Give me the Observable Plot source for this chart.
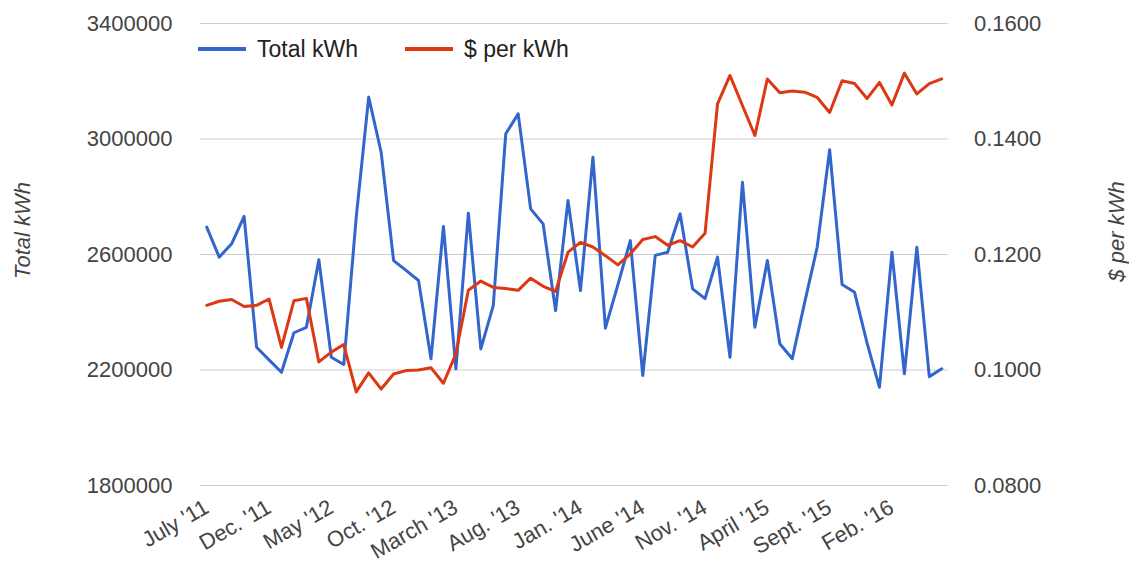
<!DOCTYPE html>
<html><head><meta charset="utf-8">
<script src="https://cdn.jsdelivr.net/npm/d3@7"></script>
<script src="https://cdn.jsdelivr.net/npm/@observablehq/plot@0.6"></script>
<style>
body{margin:0;background:#fff;font-family:"Liberation Sans",Arial,sans-serif;}
#wrap{position:relative;width:1129px;height:572px;}
.leg{position:absolute;top:35px;font-size:23px;color:#222;display:flex;align-items:center;line-height:28px;}
.sw{width:48px;height:4px;margin-right:11px;}
</style></head><body><div id="wrap"></div>
<script>
const tickLabels = ["July '11","Dec. '11","May '12","Oct. '12","March '13","Aug. '13","Jan. '14","June '14","Nov. '14","April '15","Sept. '15","Feb. '16"];
const tickIndex = [0,5,10,15,20,25,30,35,40,45,50,55];
const leftTicks = [1800000,2200000,2600000,3000000,3400000];
const totalKWh = [
 2695000,2591000,2637000,2732000,2279000,2235000,2192000,2329000,2348000,2582000,
 2244000,2219000,2729000,3145000,2954000,2579000,2545000,2510000,2239000,2697000,
 2204000,2743000,2273000,2423000,3018000,3087000,2758000,2706000,2406000,2787000,
 2475000,2937000,2345000,2495000,2648000,2181000,2597000,2608000,2741000,2481000,
 2447000,2591000,2244000,2850000,2348000,2579000,2291000,2239000,2435000,2625000,
 2963000,2496000,2469000,2294000,2140000,2608000,2187000,2625000,2177000,2204000];
const pricePerKWh = [
 0.1112,0.1119,0.1122,0.1110,0.1112,0.1123,0.1039,0.1120,0.1124,0.1014,
 0.1031,0.1044,0.0962,0.0995,0.0967,0.0993,0.0999,0.1000,0.1004,0.0977,
 0.1028,0.1138,0.1154,0.1143,0.1141,0.1138,0.1159,0.1145,0.1136,0.1204,
 0.1221,0.1213,0.1198,0.1182,0.1201,0.1226,0.1231,0.1216,0.1224,0.1213,
 0.1237,0.1461,0.1510,0.1458,0.1406,0.1504,0.1480,0.1483,0.1481,0.1472,
 0.1446,0.1501,0.1496,0.1470,0.1498,0.1459,0.1514,0.1478,0.1496,0.1504];

const rows = totalKWh.map((v, i) => ({i, kwh: v, price: pricePerKWh[i]}));
// map right axis (0.08–0.16) onto left axis domain (1.8M–3.4M)
const toLeft = p => 1800000 + (p - 0.08) / 0.08 * 1600000;
const fromLeft = v => 0.08 + (v - 1800000) / 1600000 * 0.08;
const font = '"Liberation Sans", Arial, sans-serif';

const chart = Plot.plot({
  width: 1129, height: 572,
  marginLeft: 200, marginRight: 181.5, marginTop: 23, marginBottom: 87,
  style: {fontFamily: font, fontSize: "22px", color: "#444", background: "#fff", overflow: "visible"},
  x: {domain: [-0.5, 59.5], axis: null},
  y: {domain: [1800000, 3400000], axis: null},
  marks: [
    Plot.gridY(leftTicks, {stroke: "#ccc", strokeOpacity: 1, strokeWidth: 1}),
    Plot.axisY(leftTicks, {anchor: "left", tickSize: 0, tickPadding: 28, tickFormat: d => String(d), label: null, fill: "#444"}),
    Plot.axisY(leftTicks, {anchor: "right", tickSize: 0, tickPadding: 26, tickFormat: d => fromLeft(d).toFixed(4), label: null, fill: "#444"}),
    Plot.axisX(tickIndex, {anchor: "bottom", tickSize: 0, tickPadding: 20, tickRotate: -30, tickFormat: d => tickLabels[d / 5], label: null, fill: "#444"}),
    Plot.lineY(rows, {x: "i", y: "kwh", stroke: "#3366cc", strokeWidth: 3}),
    Plot.lineY(rows, {x: "i", y: d => toLeft(d.price), stroke: "#dc3912", strokeWidth: 3}),
    Plot.text(["Total kWh"], {frameAnchor: "left", textAnchor: "middle", dx: -178, dy: -24, rotate: -90, fontStyle: "italic", fill: "#444", text: d => d}),
    Plot.text(["$ per kWh"], {frameAnchor: "right", textAnchor: "middle", dx: 169, dy: -23, rotate: -90, fontStyle: "italic", fill: "#444", text: d => d})
  ]
});
const wrap = document.getElementById("wrap");
wrap.appendChild(chart);
const legend = [["Total kWh", "#3366cc", 198], ["$ per kWh", "#dc3912", 405]];
for (const [name, color, left] of legend) {
  const d = document.createElement("div");
  d.className = "leg";
  d.style.left = left + "px";
  d.innerHTML = `<span class="sw" style="background:${color}"></span><span>${name}</span>`;
  wrap.appendChild(d);
}
</script></body></html>
